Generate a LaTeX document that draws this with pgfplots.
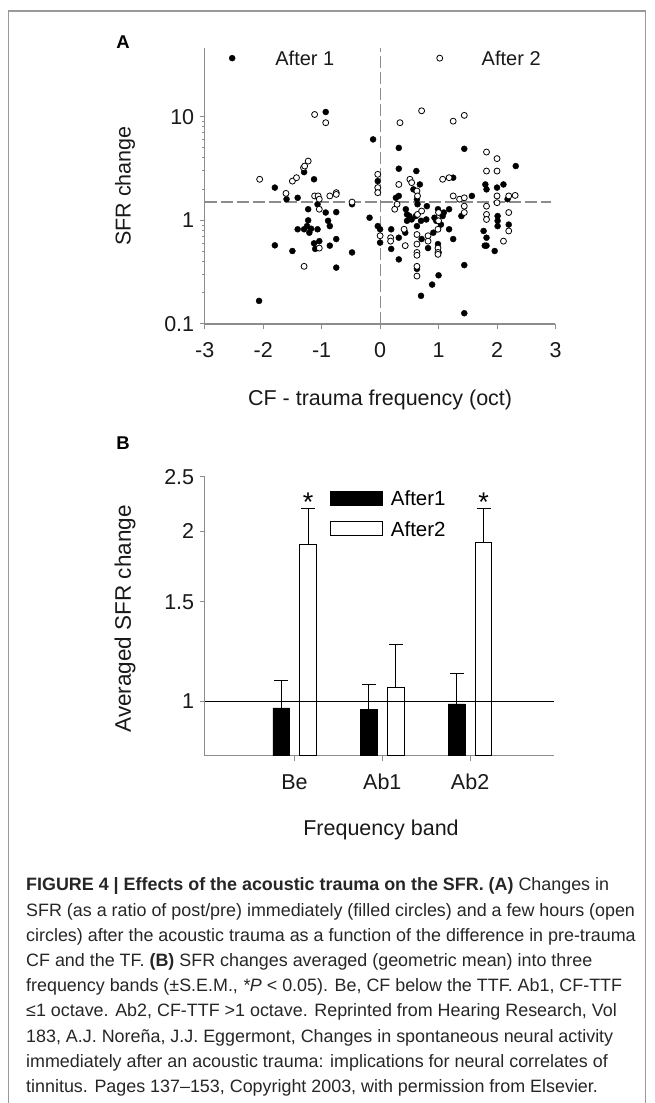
\documentclass[border=0pt]{standalone}
\usepackage{fontspec}
\setmainfont{Liberation Sans}
\usepackage{pgfplots}
\pgfplotsset{compat=1.18}
\definecolor{axgray}{gray}{0.55}
\begin{document}
\begin{tikzpicture}
\useasboundingbox (0pt,0pt) rectangle (655pt,1103pt);
\draw[black!40, line width=1.2pt] (8.4pt,-20pt) -- (8.4pt,1092pt) -- (645.5pt,1092pt) -- (645.5pt,-20pt);
\node[font=\bfseries\fontsize{18.5}{18.5}\selectfont] at (123pt,1061pt) {A};
\node[font=\bfseries\fontsize{18.5}{18.5}\selectfont] at (123pt,660pt) {B};
% ---------------- Panel A ----------------
\begin{axis}[
  at={(204.7pt,779pt)}, anchor=south west, scale only axis,
  width=350.8pt, height=276pt,
  xmin=-3, xmax=3, ymode=log, ymin=0.1, ymax=46,
  axis x line=bottom, axis y line=left,
  axis line style={-, axgray, line width=1.2pt},
  xtick={-3,-2,-1,0,1,2,3}, ytick={0.1,1,10}, yticklabels={0.1,1,10},
  minor tick num=0, tick align=outside, major tick length=5pt,
  tick style={axgray, line width=1pt},
  /pgf/number format/assume math mode=true,
  tick label style={font=\fontsize{21.5}{22}\selectfont, black!90},
  xticklabel style={yshift=-10pt},
  yticklabel style={xshift=-2pt},
  xlabel={CF - trauma frequency (oct)}, ylabel={SFR change},
  label style={font=\fontsize{21.5}{22}\selectfont, black!90},
  xlabel style={at={(axis description cs:0.5,-0.275)}, anchor=center},
  ylabel style={at={(axis description cs:-0.227,0.5)}, anchor=center},
  clip=false,
]
\addplot[axgray, line width=1.2pt, dash pattern=on 12pt off 4pt] coordinates {(-3,1.5) (2.93,1.5)};
\addplot[axgray, line width=1.2pt, dash pattern=on 12pt off 4pt] coordinates {(0,0.1) (0,46)};
% filled: After 1
\addplot[only marks, mark=*, mark size=3pt, mark options={fill=black, draw=black}] coordinates {
(-2.07,0.167) (-1.8,2.07) (-1.8,0.574) (-1.6,1.6) (-1.5,0.506) (-1.41,1.65) (-1.41,0.82)
(-1.3,2.92) (-1.3,0.82) (-1.25,0.88) (-1.23,1.0) (-1.23,1.28) (-1.21,0.76) (-1.18,0.83)
(-1.13,2.49) (-1.13,0.6) (-1.11,0.53) (-1.07,0.82) (-1.04,0.63) (-1.07,1.43) (-0.93,11.1)
(-0.93,1.19) (-0.89,0.99) (-0.86,0.88) (-0.86,0.57) (-0.75,1.2) (-0.75,0.66) (-0.75,0.35)
(-0.48,0.49) (-0.48,1.43) (-0.18,1.06) (-0.12,6.04) (-0.04,2.39) (-0.04,0.88) (0,0.82)
(0,0.61) (0.19,0.82) (0.19,0.53) (0.27,1.65) (0.32,5.0) (0.32,3.15) (0.32,1.72) (0.32,0.68)
(0.32,0.42) (0.43,0.76) (0.44,1.28) (0.46,1.14) (0.46,0.99) (0.5,1.1) (0.54,1.02) (0.57,1.99)
(0.61,1.1) (0.62,2.99) (0.64,1.43) (0.63,1.6) (0.68,2.22) (0.7,0.187) (0.7,0.99) (0.71,0.66)
(0.63,0.34) (0.63,0.88) (0.79,1.02) (0.8,1.37) (0.82,0.54) (0.89,0.24) (0.91,0.76) (0.93,1.06)
(0.96,0.99) (0.99,1.28) (0.99,0.59) (1.0,0.49) (1.0,0.295) (1.04,0.91) (1.07,1.1) (1.09,1.19)
(1.18,1.28) (1.18,0.82) (1.25,0.66) (1.25,2.58) (1.39,1.1) (1.44,4.9) (1.44,0.37) (1.44,0.127)
(1.57,1.72) (1.77,0.79) (1.79,0.57) (1.8,2.22) (1.82,1.99) (1.82,0.68) (1.82,0.57) (1.96,0.506)
(2.0,2.07) (2.01,1.1) (2.01,0.99) (2.01,0.88) (2.11,2.22) (2.18,1.6) (2.2,0.91) (2.32,3.34)
};
% open: After 2
\addplot[only marks, mark=*, mark size=3pt, mark options={fill=white, draw=black, line width=0.8pt}] coordinates {
(-2.06,2.49) (-1.61,1.82) (-1.5,2.39) (-1.43,2.58) (-1.31,3.22) (-1.29,3.34) (-1.23,3.73)
(-1.12,10.5) (-1.12,1.72) (-1.06,1.72) (-1.04,1.6) (-1.04,1.28) (-0.93,8.75) (-1.04,0.54)
(-1.3,0.36) (-0.86,1.72) (-0.75,1.85) (-0.75,1.78) (-0.48,1.5) (-0.04,2.78) (-0.04,2.07)
(-0.04,1.85) (0,0.71) (0.18,0.68) (0.18,0.63) (0.25,1.28) (0.29,1.43) (0.34,8.75) (0.32,2.22)
(0.41,0.82) (0.43,0.57) (0.51,2.49) (0.54,2.31) (0.63,1.92) (0.64,1.72) (0.63,0.73) (0.63,0.59)
(0.63,0.49) (0.63,0.46) (0.63,0.36) (0.63,0.29) (0.64,1.14) (0.71,11.4) (0.71,1.23) (0.82,0.71)
(0.82,0.63) (0.99,0.82) (0.99,0.54) (0.99,0.49) (0.99,0.47) (1.0,1.19) (1.0,0.99) (1.07,2.49)
(1.18,2.58) (1.25,9.05) (1.25,1.72) (1.44,10.3) (1.36,1.6) (1.44,1.65) (1.44,1.37) (1.44,1.19)
(1.82,4.56) (1.82,2.99) (1.82,1.37) (1.82,1.14) (1.82,1.02) (2.0,3.94) (2.0,2.99) (2.0,1.72)
(2.0,1.48) (2.2,1.72) (2.2,1.19) (2.2,0.79) (2.11,0.63) (2.31,1.74)
};
% in-plot legend
\addplot[only marks, mark=*, mark size=3pt, mark options={fill=black, draw=black}] coordinates {(-2.53,36.7)};
\addplot[only marks, mark=*, mark size=3pt, mark options={fill=white, draw=black, line width=0.8pt}] coordinates {(1.02,36.7)};
\node[anchor=west, inner sep=0pt, font=\fontsize{20}{20}\selectfont, black!90] at (axis cs:-1.795,36.7) {After 1};
\node[anchor=west, inner sep=0pt, font=\fontsize{20}{20}\selectfont, black!90] at (axis cs:1.735,36.7) {After 2};
\end{axis}
% ---------------- Panel B ----------------
\begin{axis}[
  at={(204.7pt,347.3pt)}, anchor=south west, scale only axis,
  width=348.8pt, height=279pt,
  xmin=-1.023, xmax=2.95, ymode=log, ymin=0.8, ymax=2.5, log origin y=infty,
  axis x line=bottom, axis y line=left,
  axis line style={-, axgray, line width=1.2pt},
  xtick={0,1,2}, xticklabels={Be,Ab1,Ab2},
  ytick={1,1.5,2,2.5}, yticklabels={1,1.5,2,2.5},
  minor tick num=0, minor ytick={}, tick align=outside, major tick length=5pt,
  tick style={axgray, line width=1pt},
  /pgf/number format/assume math mode=true,
  tick label style={font=\fontsize{21.5}{22}\selectfont, black!90},
  xticklabel style={yshift=-10pt},
  yticklabel style={xshift=-2pt},
  xlabel={Frequency band}, ylabel={Averaged SFR change},
  label style={font=\fontsize{21.5}{22}\selectfont, black!90},
  ylabel style={font=\fontsize{22.5}{23}\selectfont},
  xlabel style={at={(axis description cs:0.5055,-0.266)}, anchor=center},
  ylabel style={at={(axis description cs:-0.2285,0.49)}, anchor=center},
  legend style={at={(axis description cs:0.359,0.957)}, anchor=north west,
    draw=none, fill=none, inner sep=0pt, row sep=10.3pt, column sep=6pt,
    font=\fontsize{20.5}{20.5}\selectfont},
  legend cell align=left,
  clip=false,
]
\addplot[ybar, bar width=16.5pt, bar shift=0pt, fill=black, draw=black,
  legend image code/.code={\draw[fill=black, draw=black, line width=0.8pt] (0pt,-6pt) rectangle (52pt,8pt);},
  error bars/.cd, y dir=plus, y explicit,
  error bar style={black, line width=0.9pt},
  error mark options={rotate=90, black, line width=0.9pt, mark size=7pt}]
  coordinates {(-0.1538,0.973) +- (0,0.113) (0.8462,0.966) +- (0,0.105) (1.8462,0.989) +- (0,0.131)};
\addplot[ybar, bar width=16.5pt, bar shift=0pt, fill=white, draw=black, line width=0.8pt,
  legend image code/.code={\draw[fill=white, draw=black, line width=0.8pt] (0pt,-6pt) rectangle (52pt,8pt);},
  error bars/.cd, y dir=plus, y explicit,
  error bar style={black, line width=0.9pt},
  error mark options={rotate=90, black, line width=0.9pt, mark size=7pt}]
  coordinates {(0.1538,1.897) +- (0,0.303) (1.1538,1.056) +- (0,0.203) (2.1538,1.91) +- (0,0.29)};
\addplot[black, line width=1pt, forget plot] coordinates {(-1.023,1) (2.95,1)};
\node[anchor=base, inner sep=0pt, font=\fontsize{27}{27}\selectfont] at (axis cs:0.1538,2.17) {*};
\node[anchor=base, inner sep=0pt, font=\fontsize{27}{27}\selectfont] at (axis cs:2.1538,2.17) {*};
\legend{After1,After2}
\end{axis}
% ---------------- Caption ----------------
\begin{scope}[every node/.style={anchor=base west, inner sep=0pt, font=\fontsize{17.9}{25}\selectfont, text=black!85}]
\node at (26pt,212pt) {\textbf{FIGURE 4 | Effects of the acoustic trauma on the SFR. (A)} Changes in};
\node at (26pt,186.8pt) {SFR (as a ratio of post/pre) immediately (filled circles) and a few hours (open};
\node at (26pt,161.6pt) {circles) after the acoustic trauma as a function of the difference in pre-trauma};
\node at (26pt,136.4pt) {CF and the TF. \textbf{(B)} SFR changes averaged (geometric mean) into three};
\node at (26pt,111.2pt) {frequency bands ({\char"00B1}S.E.M., \textit{*P} < 0.05). Be, CF below the TTF. Ab1, CF-TTF};
\node at (26pt,86pt) {{\char"2264}1 octave. Ab2, CF-TTF >1 octave. Reprinted from Hearing Research, Vol};
\node at (26pt,60.8pt) {183, A.J. Noreña, J.J. Eggermont, Changes in spontaneous neural activity};
\node at (26pt,35.6pt) {immediately after an acoustic trauma: implications for neural correlates of};
\node at (26pt,10.4pt) {tinnitus. Pages 137–153, Copyright 2003, with permission from Elsevier.};
\end{scope}
\end{tikzpicture}
\end{document}
